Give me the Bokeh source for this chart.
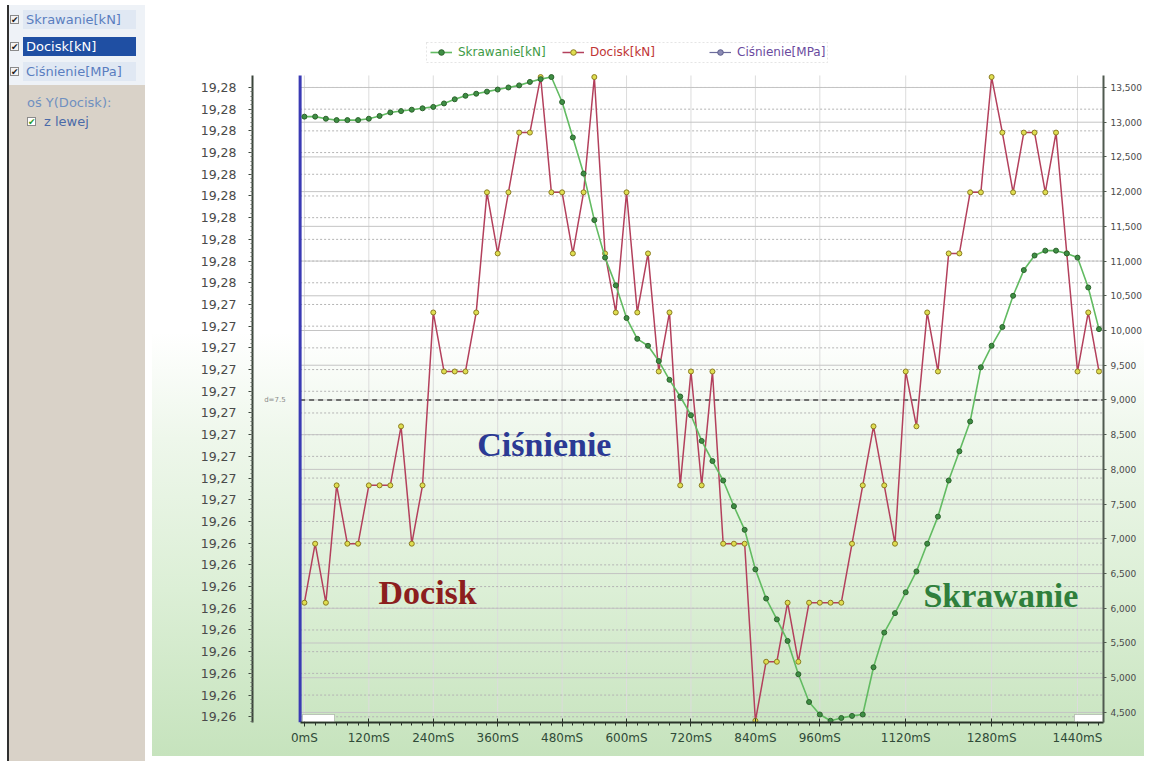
from bokeh.plotting import figure
from bokeh.models import (FixedTicker, NumeralTickFormatter, Range1d, Label,
                          Legend, LegendItem, BoxAnnotation, Div, LinearAxis, ColumnDataSource)
from bokeh.layouts import row
from bokeh.embed import file_html
from bokeh.resources import INLINE

# ---------------- data ----------------
time_ms = [0, 20, 40, 60, 80, 100, 120, 140, 160, 180, 200, 220, 240, 260, 280,
           300, 320, 340, 360, 380, 400, 420, 440, 460, 480, 500, 520, 540, 560, 580,
           600, 620, 640, 660, 680, 700, 720, 740, 760, 780, 800, 820, 840, 860, 880,
           900, 920, 940, 960, 980, 1000, 1020, 1040, 1060, 1080, 1100, 1120, 1140, 1160, 1180,
           1200, 1220, 1240, 1260, 1280, 1300, 1320, 1340, 1360, 1380, 1400, 1420, 1440, 1460, 1480]

skrawanie_kN = [13080, 13080, 13050, 13030, 13030, 13030, 13050, 13090, 13140, 13160,
                13180, 13200, 13220, 13270, 13330, 13380, 13410, 13440, 13470, 13500,
                13530, 13580, 13620, 13650, 13290, 12780, 12260, 11590, 11050, 10650,
                10180, 9880, 9780, 9560, 9290, 9050, 8780, 8410, 8120, 7840,
                7470, 7130, 6560, 6140, 5840, 5530, 5050, 4650, 4470, 4380,
                4420, 4450, 4470, 5150, 5650, 5930, 6230, 6530, 6930, 7320,
                7840, 8260, 8690, 9470, 9780, 10050, 10500, 10870, 11080, 11150,
                11150, 11110, 11050, 10620, 10020]

docisk_kN = [6080, 6930, 6080, 7770, 6930, 6930, 7770, 7770, 7770, 8620,
             6930, 7770, 10260, 9410, 9410, 9410, 10260, 11990, 11110, 11990,
             12850, 12850, 13650, 11990, 11990, 11110, 11990, 13650, 11110, 10260,
             11990, 10260, 11110, 9410, 10260, 7770, 9410, 7770, 9410, 6930,
             6930, 6930, 4380, 5230, 5230, 6080, 5230, 6080, 6080, 6080,
             6080, 6930, 7770, 8620, 7770, 6930, 9410, 8620, 10260, 9410,
             11110, 11110, 11990, 11990, 13650, 12850, 11990, 12850, 12850, 11990,
             12850, 11110, 9410, 10260, 9410]

series_names = ["Skrawanie[kN]", "Docisk[kN]", "Ciśnienie[MPa]"]

x_tick_values = [0, 120, 240, 360, 480, 600, 720, 840, 960, 1120, 1280, 1440]
x_tick_labels = ["0mS", "120mS", "240mS", "360mS", "480mS", "600mS", "720mS",
                 "840mS", "960mS", "1120mS", "1280mS", "1440mS"]

right_tick_values = [4500, 5000, 5500, 6000, 6500, 7000, 7500, 8000, 8500, 9000,
                     9500, 10000, 10500, 11000, 11500, 12000, 12500, 13000, 13500]

left_tick_values = [13500 - 312.5 * k for k in range(30)]
left_tick_labels = ["19,28"] * 10 + ["19,27"] * 10 + ["19,26"] * 10
left_minor_values = [13500 - 62.5 * k for k in range(150)]

threshold_value = 9000
threshold_text = "d=7.5"

# plotting extents (data units)
x_lo, x_hi = -96.7, 1488.4
y_lo, y_hi = 4355, 13673       # extent of the axes / plot body
y_top = 14234                  # frame top (room for the legend)
edge_x = -8                    # left edge line of the plot body

# ---------------- figure ----------------
p = figure(width=992, height=756, x_range=Range1d(x_lo, x_hi), y_range=Range1d(y_lo, y_top),
           output_backend="svg", toolbar_location=None, y_axis_location="right",
           min_border_left=100, min_border_right=40, min_border_top=36, min_border_bottom=34)
p.border_fill_alpha = 0
p.background_fill_alpha = 0
p.outline_line_color = None
p.styles = {"background": "linear-gradient(to bottom, #ffffff 0%, #ffffff 44%, #eef7eb 58%, "
                          "#dcefd6 78%, #c6e3bd 100%)"}

# x axis
xa = p.xaxis[0]
xa.ticker = FixedTicker(ticks=x_tick_values, minor_ticks=time_ms)
xa.major_label_overrides = dict(zip(x_tick_values, x_tick_labels))
xa.bounds = (edge_x, x_hi)
xa.axis_line_color = "#2a342a"
xa.axis_line_width = 2
xa.major_tick_in = 4
xa.major_tick_out = 4
xa.major_tick_line_color = "#2a342a"
xa.minor_tick_in = 0
xa.minor_tick_out = 3
xa.minor_tick_line_color = "#2a342a"
xa.major_label_standoff = 4
xa.major_label_text_font = "DejaVu Sans"
xa.major_label_text_font_size = "12px"
xa.major_label_text_color = "#2f4a38"

# right axis (primary y)
ra = p.yaxis[0]
ra.ticker = FixedTicker(ticks=right_tick_values, minor_ticks=[])
ra.formatter = NumeralTickFormatter(format="0,0")
ra.bounds = (y_lo, y_hi)
ra.axis_line_color = "#505a50"
ra.axis_line_width = 2
ra.major_tick_in = 0
ra.major_tick_out = 3
ra.major_tick_line_color = "#505a50"
ra.major_label_standoff = 4
ra.major_label_text_font = "DejaVu Sans"
ra.major_label_text_font_size = "9px"
ra.major_label_text_color = "#4a4a4a"

# left axis
la = LinearAxis(ticker=FixedTicker(ticks=left_tick_values, minor_ticks=left_minor_values),
                major_label_overrides=dict(zip(left_tick_values, left_tick_labels)))
la.bounds = (y_lo, y_hi)
la.axis_line_color = "#3a443a"
la.axis_line_width = 2
la.major_tick_in = 0
la.major_tick_out = 4
la.major_tick_line_color = "#3a443a"
la.minor_tick_in = 0
la.minor_tick_out = 2
la.minor_tick_line_color = "#6a726a"
la.major_label_standoff = 12
la.major_label_text_font = "DejaVu Sans"
la.major_label_text_font_size = "12.5px"
la.major_label_text_color = "#4a4a4a"
p.add_layout(la, "left")

# grids (drawn only over the plot body)
p.ygrid.visible = False
p.xgrid.visible = False
p.segment(x0=x_tick_values, x1=x_tick_values,
          y0=[y_lo] * len(x_tick_values), y1=[y_hi] * len(x_tick_values),
          line_color="#dcdcdc", line_width=1)
p.segment(x0=[edge_x] * len(left_tick_values), x1=[x_hi] * len(left_tick_values),
          y0=left_tick_values, y1=left_tick_values,
          line_color="#b4b4b4", line_width=1, line_dash="2 2")
p.segment(x0=[edge_x] * len(right_tick_values), x1=[x_hi] * len(right_tick_values),
          y0=right_tick_values, y1=right_tick_values,
          line_color="#c4c4c4", line_width=1)

# threshold dashed line
p.segment(x0=[edge_x], x1=[x_hi], y0=[threshold_value], y1=[threshold_value],
          line_color="#4a4a4a", line_width=1.5, line_dash="5 4")
p.add_layout(Label(x=-75, y=threshold_value, text=threshold_text, text_font="DejaVu Sans",
                   text_font_size="7px", text_color="#8a8a8a", text_baseline="middle"))

# blue vertical edge line
p.segment(x0=[edge_x], x1=[edge_x], y0=[y_lo], y1=[y_hi], line_color="#3a3ab4", line_width=3)

# small scroll buttons at the ends of the x axis
for lft, rgt in ((50, 82), (822, 850)):
    p.add_layout(BoxAnnotation(left=lft, right=rgt, bottom=1, top=8,
                               left_units="screen", right_units="screen",
                               top_units="screen", bottom_units="screen",
                               fill_color="white", fill_alpha=1.0,
                               line_color="#5a5a5a", line_width=1))

# series
src = ColumnDataSource(dict(t=time_ms, sk=skrawanie_kN, dc=docisk_kN))
dl = p.line("t", "dc", source=src, line_color="#b3405c", line_width=1.5)
ds = p.scatter("t", "dc", source=src, size=5, marker="circle",
               fill_color="#dede50", line_color="#8c7c22", line_width=1)
sl = p.line("t", "sk", source=src, line_color="#62bb62", line_width=1.6)
ss = p.scatter("t", "sk", source=src, size=5, marker="circle",
               fill_color="#3e8e44", line_color="#2c632c", line_width=1)
nan = float("nan")
cl = p.line([nan, nan], [nan, nan], line_color="#6c6c9c", line_width=1.2)
cs = p.scatter([nan], [nan], size=4, marker="circle", fill_color="#8c8cb4", line_color="#5c5c8c")

# series captions
cap_font = "Liberation Serif"
p.add_layout(Label(x=322, y=8360, text="Ciśnienie", text_font=cap_font, text_font_style="bold",
                   text_font_size="34px", text_color="#2b3a94", text_baseline="middle"))
p.add_layout(Label(x=138, y=6230, text="Docisk", text_font=cap_font, text_font_style="bold",
                   text_font_size="34px", text_color="#8c1e1e", text_baseline="middle"))
p.add_layout(Label(x=1153, y=6185, text="Skrawanie", text_font=cap_font, text_font_style="bold",
                   text_font_size="34px", text_color="#2f7f3c", text_baseline="middle"))

# legend box + legends
p.add_layout(BoxAnnotation(left=174, right=575, top=680, bottom=660,
                           left_units="screen", right_units="screen",
                           top_units="screen", bottom_units="screen",
                           fill_color="white", fill_alpha=1.0,
                           line_color="#a8a8a8", line_dash="2 2", line_width=1))

def mk_legend(name, rends, color, x):
    lg = Legend(items=[LegendItem(label=name, renderers=rends)], location=(x, 663),
                orientation="horizontal", background_fill_alpha=0, border_line_color=None,
                padding=0, margin=0, spacing=0, glyph_width=22, glyph_height=14,
                label_height=14, label_standoff=6, label_text_font="DejaVu Sans",
                label_text_font_size="12px", label_text_color=color)
    p.add_layout(lg)

mk_legend(series_names[0], [sl, ss], "#3e9a46", 178)
mk_legend(series_names[1], [dl, ds], "#c03434", 310)
mk_legend(series_names[2], [cl, cs], "#6a4a9e", 457)

# ---------------- left panel ----------------
def cb(left, top, color="#202020", bg="#f4f4f4"):
    return (f'<div style="position:absolute;left:{left}px;top:{top}px;width:9px;height:9px;'
            f'border:1px solid #8a8a8a;background:{bg};font-size:9px;line-height:9px;'
            f'text-align:center;color:{color};">&#10004;</div>')

def txt(left, top, s, color, bg=None, w=None):
    extra = f"background:{bg};" if bg else ""
    width = f"width:{w}px;" if w else ""
    return (f'<div style="position:absolute;left:{left}px;top:{top}px;{width}{extra}height:19px;'
            f'line-height:19px;padding-left:3px;color:{color};white-space:nowrap;">{s}</div>')

panel_html = (
    '<div style="position:relative;width:142px;height:756px;overflow:hidden;'
    'font-family:\'DejaVu Sans\',sans-serif;font-size:13px;background:#ffffff;">'
    '<div style="position:absolute;left:2px;top:-8px;width:2px;height:780px;background:#303030"></div>'
    '<div style="position:absolute;left:4px;top:-8px;width:136px;height:88px;background:#eef2f7"></div>'
    '<div style="position:absolute;left:4px;top:80px;width:136px;height:700px;background:#d9d2c8"></div>'
    + cb(5, 10) + txt(18, 5, series_names[0], "#5a7ec0", "#e0e8f3", 113)
    + cb(5, 37) + txt(18, 32, "Docisk[kN]", "#ffffff", "#1f4fa3", 113)
    + cb(5, 62) + txt(18, 57, series_names[2], "#5a7ec0", "#e0e8f3", 113)
    + txt(19, 88, "oś Y(Docisk):", "#7090c0")
    + cb(22, 112, "#2a9a2a", "#ffffff") + txt(36, 107, "z lewej", "#4a6aa8")
    + '</div>'
)
panel = Div(text=panel_html, width=142, height=756)

layout = row(panel, p)
open("out.html", "w").write(file_html(layout, INLINE))
